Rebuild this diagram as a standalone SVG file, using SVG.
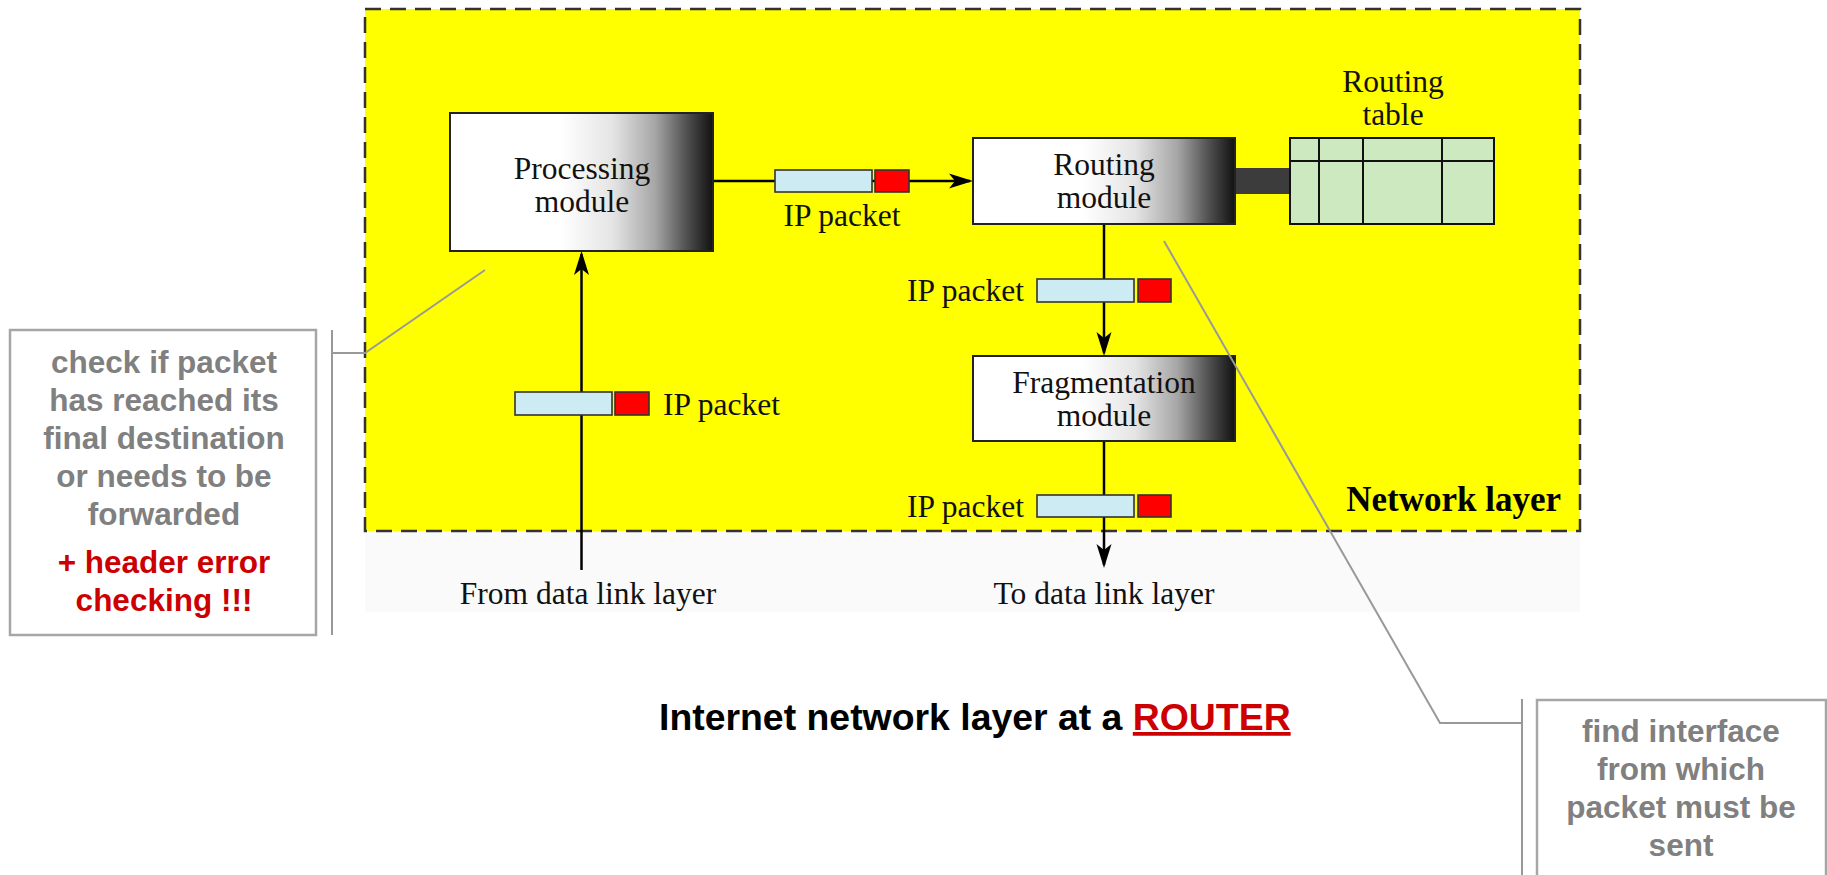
<svg xmlns="http://www.w3.org/2000/svg" width="1827" height="875" viewBox="0 0 1827 875">
  <style>
    .serif { font-family: "Liberation Serif", "Times New Roman", serif; font-size: 31.5px; fill: #111; }
    .serif-b { font-family: "Liberation Serif", "Times New Roman", serif; font-size: 35px; font-weight: bold; fill: #000; }
    .sans { font-family: "Liberation Sans", Arial, sans-serif; font-size: 31.5px; font-weight: bold; }
    .note { fill: #808080; }
    .warn { fill: #cc0000; }
    .module { stroke: #222; stroke-width: 2; fill: url(#shade); }
    .wire { stroke: #000; stroke-width: 2.5; fill: none; }
    .body { fill: #cdebf2; stroke: #333; stroke-width: 1.6; }
    .head { fill: #ff0000; stroke: #333; stroke-width: 1.6; }
    .callout { fill: #fff; stroke: #a6a6a6; stroke-width: 2.5; }
    .leader { stroke: #999; stroke-width: 2; fill: none; }
  </style>
  <defs>
    <linearGradient id="shade" x1="0" y1="0" x2="1" y2="0">
      <stop offset="0" stop-color="#ffffff"/>
      <stop offset="0.42" stop-color="#ffffff"/>
      <stop offset="0.62" stop-color="#e4e4e4"/>
      <stop offset="0.78" stop-color="#a6a6a6"/>
      <stop offset="0.9" stop-color="#505050"/>
      <stop offset="1" stop-color="#111111"/>
    </linearGradient>
    <marker id="arrow" markerUnits="userSpaceOnUse" markerWidth="30" markerHeight="20" viewBox="-24 -10 30 20" refX="0" refY="0" orient="auto">
      <path d="M3,0 L-21,-7.5 L-15,0 L-21,7.5 Z" fill="#000"/>
    </marker>
  </defs>

  <rect width="1827" height="875" fill="#ffffff"/>

  <!-- network layer frame -->
  <g id="network-layer">
    <rect x="365" y="531" width="1215" height="81" fill="#fafafa"/>
    <rect x="365" y="9" width="1215" height="522" fill="#ffff00" stroke="#333" stroke-width="2.5" stroke-dasharray="16 9"/>
    <text class="serif-b" text-anchor="end" x="1561" y="511">Network layer</text>
  </g>

  <!-- connectors -->
  <g id="connectors">
    <line class="wire" x1="581.5" y1="570" x2="581.5" y2="254" marker-end="url(#arrow)"/>
    <line class="wire" x1="713" y1="181" x2="970" y2="181" marker-end="url(#arrow)"/>
    <line class="wire" x1="1104" y1="224" x2="1104" y2="353" marker-end="url(#arrow)"/>
    <line class="wire" x1="1104" y1="441" x2="1104" y2="565" marker-end="url(#arrow)"/>
    <rect x="1235" y="168" width="55" height="26" fill="#3c3c3c"/>
  </g>

  <!-- packets travelling along the connectors -->
  <g id="packet-in">
    <rect class="body" x="515" y="392" width="97" height="23"/>
    <rect class="head" x="615" y="392" width="34" height="23"/>
    <text class="serif" x="663" y="415">IP packet</text>
  </g>
  <g id="packet-routed">
    <rect class="body" x="775" y="170" width="97" height="22"/>
    <rect class="head" x="875" y="170" width="34" height="22"/>
    <text class="serif" text-anchor="middle" x="842" y="226">IP packet</text>
  </g>
  <g id="packet-to-frag">
    <rect class="body" x="1037" y="279" width="97" height="23"/>
    <rect class="head" x="1138" y="279" width="33" height="23"/>
    <text class="serif" text-anchor="end" x="1024" y="301">IP packet</text>
  </g>
  <g id="packet-out">
    <rect class="body" x="1037" y="495" width="97" height="22"/>
    <rect class="head" x="1138" y="495" width="33" height="22"/>
    <text class="serif" text-anchor="end" x="1024" y="517">IP packet</text>
  </g>

  <g id="processing-module">
    <rect class="module" x="450" y="113" width="263" height="138"/>
    <text class="serif" text-anchor="middle" x="582" y="179">Processing</text>
    <text class="serif" text-anchor="middle" x="582" y="212">module</text>
  </g>

  <g id="routing-module">
    <rect class="module" x="973" y="138" width="262" height="86"/>
    <text class="serif" text-anchor="middle" x="1104" y="175">Routing</text>
    <text class="serif" text-anchor="middle" x="1104" y="208">module</text>
  </g>

  <g id="routing-table">
    <text class="serif" text-anchor="middle" x="1393" y="92">Routing</text>
    <text class="serif" text-anchor="middle" x="1393" y="125">table</text>
    <rect x="1290" y="138" width="204" height="86" fill="#cce9bf" stroke="#111" stroke-width="2"/>
    <path d="M1290 161 H1494 M1319 138 V224 M1363 138 V224 M1442 138 V224" stroke="#111" stroke-width="2" fill="none"/>
  </g>

  <g id="fragmentation-module">
    <rect class="module" x="973" y="356" width="262" height="85"/>
    <text class="serif" text-anchor="middle" x="1104" y="393">Fragmentation</text>
    <text class="serif" text-anchor="middle" x="1104" y="426">module</text>
  </g>

  <g id="data-link-labels">
    <text class="serif" text-anchor="middle" x="588" y="604">From data link layer</text>
    <text class="serif" text-anchor="middle" x="1104" y="604">To data link layer</text>
  </g>

  <!-- note on the processing module -->
  <g id="note-processing">
    <path class="leader" d="M332 330 V635 M332 353 H365 L485 270"/>
    <rect class="callout" x="10" y="330" width="306" height="305"/>
    <g class="sans note" text-anchor="middle">
      <text x="164" y="373">check if packet</text>
      <text x="164" y="411">has reached its</text>
      <text x="164" y="449">final destination</text>
      <text x="164" y="487">or needs to be</text>
      <text x="164" y="525">forwarded</text>
    </g>
    <g class="sans warn" text-anchor="middle">
      <text x="164" y="573">+ header error</text>
      <text x="164" y="611">checking !!!</text>
    </g>
  </g>

  <!-- note on the routing module -->
  <g id="note-routing">
    <path class="leader" d="M1522 699 V880 M1522 723 H1440 L1164 241"/>
    <rect class="callout" x="1537" y="700" width="289" height="200"/>
    <g class="sans note" text-anchor="middle">
      <text x="1681" y="742">find interface</text>
      <text x="1681" y="780">from which</text>
      <text x="1681" y="818">packet must be</text>
      <text x="1681" y="856">sent</text>
    </g>
  </g>

  <g id="title">
    <text class="sans" style="font-size:37.4px" fill="#000" x="659" y="730">Internet network layer at a <tspan fill="#cc0000" text-decoration="underline">ROUTER</tspan></text>
  </g>
</svg>
